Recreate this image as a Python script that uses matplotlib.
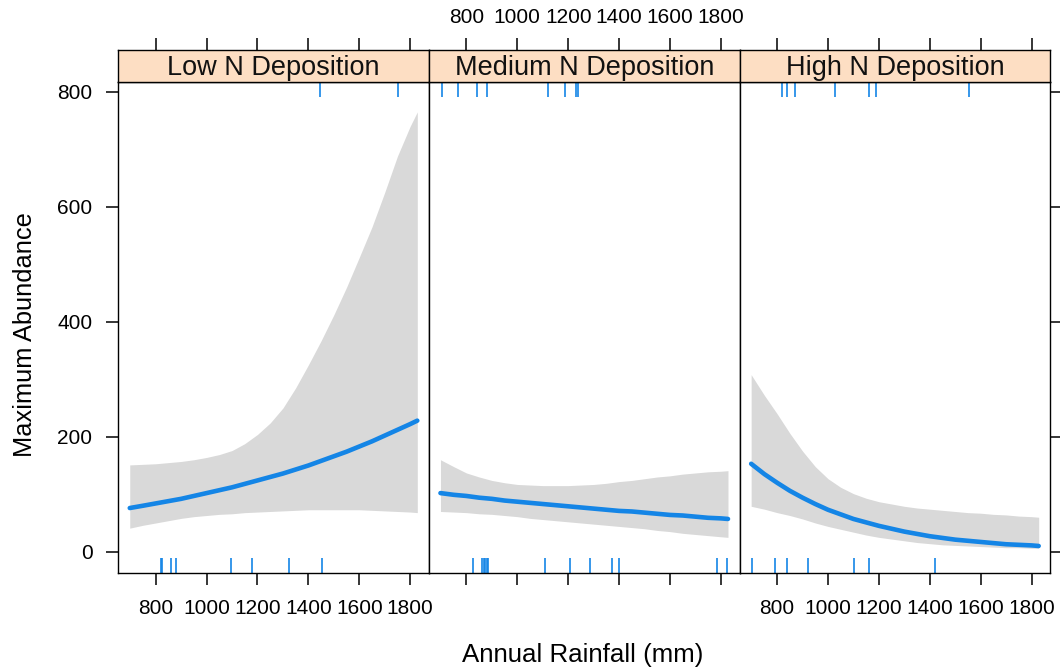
import matplotlib
matplotlib.use("Agg")
import matplotlib.pyplot as plt

plt.rcParams['font.family'] = ['Liberation Sans', 'DejaVu Sans']

# Data
panel_titles = ["Low N Deposition", "Medium N Deposition", "High N Deposition"]
rainfall = [698, 750, 800, 850, 900, 950, 1000, 1050, 1100, 1150, 1200, 1250,
            1300, 1350, 1400, 1450, 1500, 1550, 1600, 1650, 1700, 1750, 1800, 1828]

low_fit = [76, 80, 84, 88, 92, 97, 102, 107, 112, 118, 124, 130,
           136, 143, 150, 158, 166, 174, 183, 192, 202, 212, 222, 228]
low_upper = [151, 152, 153, 155, 157, 160, 164, 169, 176, 188, 204, 224,
             250, 285, 325, 367, 412, 460, 512, 565, 625, 688, 740, 765]
low_lower = [41, 46, 50, 54, 58, 61, 63, 65, 66, 68, 69, 70,
             71, 72, 73, 73, 73, 73, 73, 72, 71, 70, 69, 68]

med_fit = [102, 99, 97, 94, 92, 89, 87, 85, 83, 81, 79, 77,
           75, 73, 71, 70, 68, 66, 64, 63, 61, 59, 58, 57]
med_upper = [160, 148, 137, 130, 124, 120, 117, 116, 115, 115, 115, 116,
             117, 119, 122, 124, 127, 130, 132, 135, 137, 139, 140, 141]
med_lower = [70, 69, 68, 66, 65, 63, 61, 58, 56, 54, 52, 50,
             48, 46, 44, 42, 40, 37, 35, 32, 30, 28, 26, 25]

high_fit = [153, 135, 120, 106, 94, 83, 73, 65, 57, 51, 45, 40,
            35, 31, 27, 24, 21, 19, 17, 15, 13, 12, 11, 10]
high_upper = [308, 272, 240, 206, 175, 148, 127, 112, 101, 93, 87, 83,
              79, 76, 74, 72, 70, 68, 67, 65, 64, 62, 61, 60]
high_lower = [79, 74, 68, 63, 57, 50, 44, 39, 34, 29, 25, 22,
              19, 16, 14, 12, 11, 10, 9, 8, 7, 7, 6, 6]

low_rug_bottom = [821, 826, 859, 881, 1095, 1180, 1325, 1452]
low_rug_top = [1446, 1751]
med_rug_bottom = [826, 862, 868, 874, 880, 886, 1108, 1206, 1287, 1374, 1400, 1786, 1826]
med_rug_top = [706, 767, 840, 880, 1121, 1186, 1232, 1238]
high_rug_bottom = [702, 793, 839, 922, 1101, 1160, 1419]
high_rug_top = [821, 840, 869, 1026, 1160, 1190, 1553]

x_ticks = [800, 1000, 1200, 1400, 1600, 1800]
y_ticks = [0, 200, 400, 600, 800]

fits = [low_fit, med_fit, high_fit]
uppers = [low_upper, med_upper, high_upper]
lowers = [low_lower, med_lower, high_lower]
rugs_bottom = [low_rug_bottom, med_rug_bottom, high_rug_bottom]
rugs_top = [low_rug_top, med_rug_top, high_rug_top]

line_col = '#1485E6'
band_col = '#D9D9D9'
strip_col = '#FDDEC3'

W, H = 1060, 669
fig = plt.figure(figsize=(W / 100, H / 100), dpi=100)


def box(x0, y0, x1, y1):
    return [x0 / W, 1 - y1 / H, (x1 - x0) / W, (y1 - y0) / H]


left0, pw = 118.3, 310.7
for i in range(3):
    l = left0 + i * pw
    ax = fig.add_axes(box(l, 82, l + pw, 573))
    sax = fig.add_axes(box(l, 50, l + pw, 82))

    ax.fill_between(rainfall, lowers[i], uppers[i], color=band_col, lw=0)
    ax.plot(rainfall, fits[i], color=line_col, lw=3.3, solid_capstyle='round')
    tr = ax.get_xaxis_transform()
    ax.vlines(rugs_bottom[i], 0, 0.031, transform=tr, color=line_col, lw=1.2)
    ax.vlines(rugs_top[i], 0.969, 1, transform=tr, color=line_col, lw=1.2)

    ax.set_xlim(653, 1874)
    ax.set_ylim(-37, 817)
    ax.set_xticks(x_ticks)
    ax.set_yticks(y_ticks)
    ax.tick_params(direction='out', length=8.6, width=1.1, labelsize=15, pad=10,
                   colors='black', top=False, left=(i == 0), right=(i == 2),
                   labelleft=(i == 0), labelright=False, labelbottom=(i != 1))
    for s in ax.spines.values():
        s.set_linewidth(1.0)

    sax.set_facecolor(strip_col)
    sax.set_xlim(653, 1874)
    sax.set_ylim(0, 1)
    sax.set_xticks(x_ticks)
    sax.set_yticks([])
    sax.tick_params(axis='x', direction='out', length=8.6, width=1.1, labelsize=15, pad=8,
                    bottom=False, labelbottom=False, top=True, labeltop=(i == 1))
    for s in sax.spines.values():
        s.set_linewidth(1.0)
    sax.text(0.5, 0.45, panel_titles[i], transform=sax.transAxes, ha='center',
             va='center', fontsize=19.5, color='#111111')

fig.text(583 / W, 1 - 655 / H, "Annual Rainfall (mm)", ha='center', va='center', fontsize=18.6)
fig.text(25 / W, 1 - 335 / H, "Maximum Abundance", ha='center', va='center',
         rotation=90, fontsize=18.3)

fig.savefig('out.png', dpi=100)
